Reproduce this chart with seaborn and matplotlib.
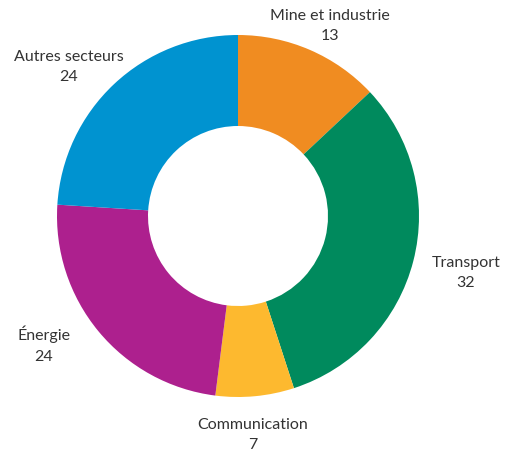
import matplotlib
matplotlib.use("Agg")
import matplotlib.pyplot as plt
import seaborn as sns

sectors = ["Mine et industrie", "Transport", "Communication", "Énergie", "Autres secteurs"]
values = [13, 32, 7, 24, 24]
colors = ["#F08C21", "#008A5D", "#FDB92F", "#AD208E", "#0093D0"]

sns.set_theme(style="white")
plt.rcParams["font.family"] = ["Lato", "DejaVu Sans"]

W, H = 509, 451
fig = plt.figure(figsize=(W / 100, H / 100), dpi=100)
ax = fig.add_axes([0, 0, 1, 1])

cx, cy, r_out, r_in = 238, H - 216, 181, 90
ax.pie(values, colors=colors, startangle=90, counterclock=False,
       center=(cx, cy), radius=r_out, frame=True,
       wedgeprops=dict(width=r_out - r_in, linewidth=0))
ax.set_xlim(0, W)
ax.set_ylim(0, H)
ax.set_aspect("equal")
ax.axis("off")

# label anchors (pixel positions measured from top-left)
label_pos = [(330, 26), (466, 273), (253, 435), (44, 345), (69, 67)]
for name, v, (x, y) in zip(sectors, values, label_pos):
    ax.text(x, H - y, f"{name}\n{v}", ha="center", va="center",
            fontsize=11.5, color="#333333", linespacing=1.6)

fig.savefig("out.png", dpi=100)
